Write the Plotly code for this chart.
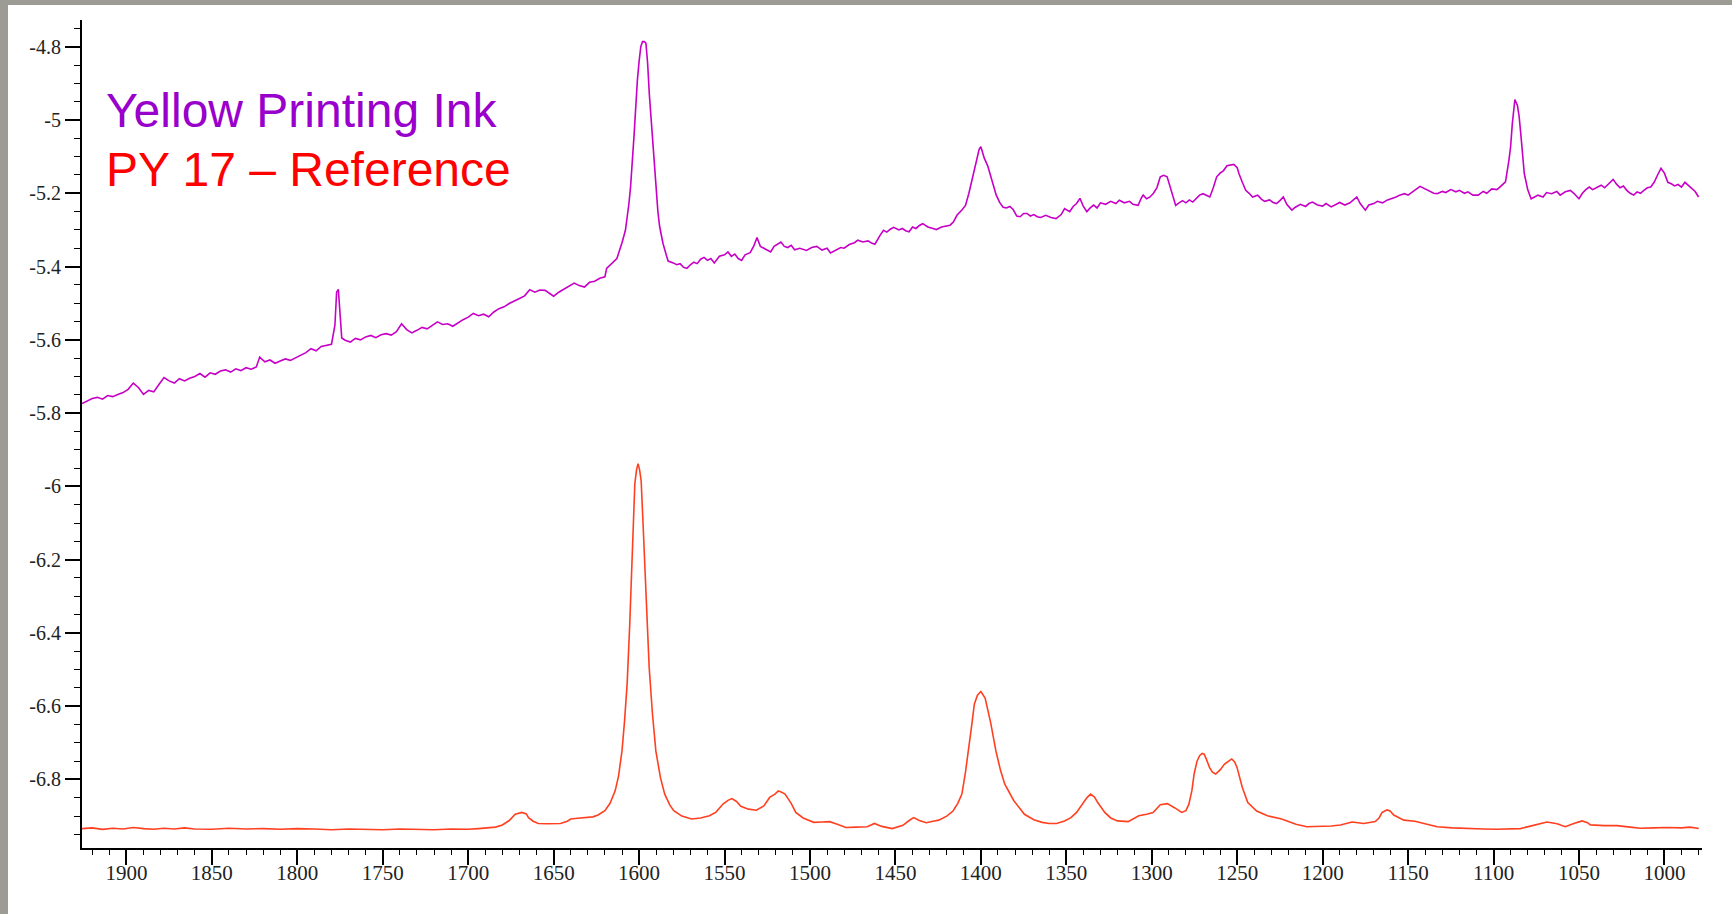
import plotly.graph_objects as go

# ---------------- data: Raman shift (cm-1), intensity ----------------
ink_points = [
    (1926, -5.774), (1923, -5.768), (1920, -5.760), (1917, -5.757), (1914, -5.762),
    (1911, -5.752), (1908, -5.755), (1905, -5.749), (1902, -5.744), (1899, -5.735),
    (1896, -5.718), (1893, -5.730), (1890, -5.749), (1887, -5.738), (1884, -5.742),
    (1881, -5.722), (1878, -5.703), (1875, -5.712), (1872, -5.718), (1869, -5.706),
    (1866, -5.712), (1863, -5.705), (1860, -5.700), (1857, -5.692), (1854, -5.702),
    (1851, -5.690), (1848, -5.694), (1845, -5.685), (1842, -5.682), (1839, -5.688),
    (1836, -5.679), (1833, -5.684), (1830, -5.676), (1827, -5.680), (1824, -5.674),
    (1822, -5.647), (1819, -5.660), (1816, -5.655), (1813, -5.664), (1810, -5.658),
    (1807, -5.652), (1804, -5.656), (1801, -5.649), (1798, -5.642), (1795, -5.635),
    (1792, -5.624), (1789, -5.630), (1786, -5.618), (1783, -5.615), (1780, -5.612),
    (1778, -5.560), (1777, -5.470), (1776, -5.462), (1775, -5.520), (1774, -5.595),
    (1772, -5.601), (1769, -5.606), (1766, -5.596), (1763, -5.600), (1760, -5.592),
    (1757, -5.588), (1754, -5.594), (1751, -5.586), (1748, -5.583), (1745, -5.587),
    (1742, -5.578), (1739, -5.556), (1736, -5.572), (1733, -5.581), (1730, -5.574),
    (1727, -5.566), (1724, -5.570), (1721, -5.560), (1718, -5.551), (1715, -5.558),
    (1712, -5.556), (1709, -5.563), (1706, -5.553), (1703, -5.545), (1700, -5.538),
    (1697, -5.528), (1694, -5.534), (1691, -5.530), (1688, -5.537), (1685, -5.524),
    (1682, -5.515), (1679, -5.510), (1676, -5.501), (1673, -5.495), (1670, -5.487),
    (1667, -5.480), (1664, -5.463), (1661, -5.470), (1658, -5.464), (1655, -5.465),
    (1652, -5.475), (1650, -5.481), (1647, -5.470), (1644, -5.462), (1641, -5.455),
    (1638, -5.445), (1635, -5.452), (1632, -5.456), (1629, -5.443), (1626, -5.440),
    (1623, -5.432), (1620, -5.428), (1619, -5.405), (1616, -5.392), (1613, -5.378),
    (1610, -5.335), (1608, -5.301), (1606, -5.230), (1605, -5.183), (1603, -5.046),
    (1602, -4.960), (1601, -4.891), (1600, -4.840), (1599, -4.800), (1598, -4.786),
    (1597, -4.786), (1596, -4.790), (1595, -4.845), (1594, -4.930), (1593, -5.000),
    (1592, -5.060), (1591, -5.130), (1590, -5.200), (1589, -5.250), (1588, -5.290),
    (1586, -5.337), (1584, -5.370), (1583, -5.385), (1580, -5.390), (1578, -5.395),
    (1576, -5.392), (1574, -5.402), (1572, -5.405), (1570, -5.395), (1568, -5.388),
    (1566, -5.392), (1564, -5.380), (1562, -5.375), (1560, -5.383), (1558, -5.378),
    (1556, -5.390), (1553, -5.372), (1550, -5.368), (1548, -5.360), (1546, -5.372),
    (1544, -5.366), (1542, -5.378), (1540, -5.383), (1538, -5.368), (1535, -5.362),
    (1533, -5.345), (1531, -5.321), (1529, -5.345), (1527, -5.350), (1525, -5.355),
    (1523, -5.360), (1521, -5.345), (1519, -5.340), (1517, -5.333), (1515, -5.345),
    (1513, -5.348), (1511, -5.342), (1509, -5.354), (1506, -5.350), (1504, -5.352),
    (1502, -5.356), (1499, -5.348), (1496, -5.345), (1493, -5.355), (1490, -5.350),
    (1488, -5.363), (1485, -5.355), (1482, -5.348), (1480, -5.350), (1477, -5.340),
    (1474, -5.335), (1472, -5.328), (1469, -5.333), (1466, -5.330), (1464, -5.336),
    (1462, -5.339), (1459, -5.315), (1457, -5.301), (1455, -5.306), (1453, -5.298),
    (1451, -5.293), (1448, -5.300), (1446, -5.296), (1444, -5.302), (1442, -5.305),
    (1440, -5.292), (1438, -5.296), (1436, -5.288), (1434, -5.283), (1431, -5.292),
    (1428, -5.296), (1426, -5.299), (1423, -5.292), (1420, -5.290), (1418, -5.287),
    (1416, -5.278), (1414, -5.260), (1411, -5.245), (1409, -5.233), (1407, -5.200),
    (1405, -5.160), (1403, -5.120), (1401, -5.080), (1400, -5.073), (1399, -5.090),
    (1398, -5.104), (1396, -5.125), (1395, -5.140), (1393, -5.170), (1391, -5.205),
    (1389, -5.225), (1387, -5.238), (1385, -5.240), (1383, -5.236), (1381, -5.245),
    (1379, -5.262), (1377, -5.264), (1375, -5.255), (1373, -5.255), (1371, -5.262),
    (1369, -5.258), (1367, -5.264), (1365, -5.266), (1362, -5.260), (1359, -5.266),
    (1356, -5.269), (1353, -5.258), (1351, -5.242), (1348, -5.250), (1346, -5.236),
    (1344, -5.228), (1342, -5.214), (1340, -5.236), (1338, -5.250), (1336, -5.240),
    (1334, -5.232), (1332, -5.240), (1330, -5.226), (1327, -5.230), (1324, -5.222),
    (1321, -5.228), (1319, -5.219), (1316, -5.226), (1313, -5.222), (1311, -5.230),
    (1308, -5.233), (1306, -5.212), (1305, -5.205), (1303, -5.215), (1301, -5.210),
    (1299, -5.200), (1297, -5.185), (1295, -5.155), (1293, -5.151), (1291, -5.155),
    (1290, -5.170), (1288, -5.205), (1286, -5.233), (1284, -5.226), (1282, -5.220),
    (1280, -5.226), (1278, -5.218), (1276, -5.224), (1274, -5.215), (1272, -5.205),
    (1270, -5.201), (1268, -5.206), (1266, -5.210), (1264, -5.185), (1262, -5.155),
    (1260, -5.145), (1258, -5.138), (1256, -5.125), (1254, -5.122), (1252, -5.121),
    (1250, -5.130), (1249, -5.146), (1247, -5.170), (1245, -5.192), (1243, -5.200),
    (1241, -5.210), (1238, -5.205), (1236, -5.215), (1234, -5.222), (1231, -5.218),
    (1229, -5.225), (1227, -5.228), (1225, -5.220), (1223, -5.210), (1221, -5.230),
    (1218, -5.246), (1216, -5.238), (1213, -5.230), (1210, -5.236), (1208, -5.228),
    (1206, -5.224), (1203, -5.232), (1200, -5.235), (1198, -5.228), (1195, -5.237),
    (1192, -5.230), (1190, -5.225), (1187, -5.232), (1184, -5.226), (1182, -5.218),
    (1180, -5.210), (1178, -5.228), (1176, -5.240), (1175, -5.246), (1173, -5.232),
    (1170, -5.228), (1168, -5.222), (1165, -5.226), (1162, -5.218), (1160, -5.215),
    (1157, -5.210), (1155, -5.205), (1152, -5.201), (1150, -5.205), (1147, -5.196),
    (1145, -5.188), (1143, -5.181), (1140, -5.188), (1138, -5.194), (1135, -5.200),
    (1133, -5.201), (1130, -5.195), (1128, -5.198), (1125, -5.190), (1122, -5.196),
    (1120, -5.192), (1117, -5.200), (1115, -5.196), (1112, -5.205), (1109, -5.205),
    (1106, -5.195), (1104, -5.200), (1101, -5.188), (1098, -5.190), (1096, -5.182),
    (1094, -5.172), (1093, -5.169), (1091, -5.110), (1090, -5.073), (1089, -5.010),
    (1088, -4.960), (1087.5, -4.944), (1086, -4.960), (1085, -4.991), (1084, -5.040),
    (1083, -5.100), (1082, -5.146), (1080, -5.190), (1078, -5.215), (1076, -5.210),
    (1074, -5.205), (1071, -5.210), (1069, -5.198), (1066, -5.201), (1063, -5.195),
    (1061, -5.205), (1058, -5.196), (1055, -5.192), (1053, -5.200), (1050, -5.215),
    (1048, -5.200), (1046, -5.190), (1044, -5.183), (1042, -5.190), (1040, -5.186),
    (1037, -5.178), (1035, -5.185), (1032, -5.170), (1030, -5.162), (1028, -5.175),
    (1026, -5.185), (1024, -5.180), (1022, -5.192), (1020, -5.200), (1018, -5.205),
    (1016, -5.196), (1014, -5.200), (1012, -5.192), (1010, -5.185), (1008, -5.183),
    (1006, -5.170), (1004, -5.150), (1002, -5.132), (1000, -5.145), (998, -5.170),
    (996, -5.174), (994, -5.180), (992, -5.176), (990, -5.183), (988, -5.170),
    (986, -5.178), (984, -5.185), (982, -5.195), (980, -5.210),
]

reference_points = [
    (1926, -6.934), (1920, -6.932), (1914, -6.936), (1908, -6.933), (1902, -6.935),
    (1896, -6.931), (1890, -6.934), (1884, -6.936), (1878, -6.933), (1872, -6.935),
    (1866, -6.932), (1860, -6.935), (1850, -6.936), (1840, -6.933), (1830, -6.935),
    (1820, -6.934), (1810, -6.936), (1800, -6.934), (1790, -6.935), (1780, -6.937),
    (1770, -6.935), (1760, -6.936), (1750, -6.937), (1740, -6.935), (1730, -6.936),
    (1720, -6.937), (1710, -6.935), (1700, -6.936), (1694, -6.934), (1688, -6.932),
    (1684, -6.930), (1680, -6.924), (1676, -6.912), (1672.5, -6.895), (1668.6, -6.890),
    (1666, -6.894), (1664.7, -6.904), (1662, -6.914), (1659, -6.920), (1654, -6.921),
    (1650, -6.920), (1646, -6.920), (1642, -6.914), (1640, -6.908), (1636, -6.906),
    (1632, -6.904), (1627, -6.902), (1624, -6.897), (1620, -6.885), (1617, -6.865),
    (1614, -6.831), (1612, -6.790), (1610, -6.722), (1608.5, -6.640), (1607, -6.539),
    (1605.5, -6.380), (1604.5, -6.248), (1603.5, -6.110), (1602.5, -5.993), (1601.5, -5.955),
    (1600.6, -5.938), (1599.7, -5.955), (1598.8, -5.984), (1597.7, -6.100), (1596.7, -6.221),
    (1595.3, -6.370), (1594.1, -6.494), (1592.2, -6.620), (1590.2, -6.722), (1587.5, -6.795),
    (1585, -6.840), (1582, -6.870), (1579.7, -6.885), (1575, -6.900), (1569.3, -6.908),
    (1564, -6.905), (1558.8, -6.899), (1555, -6.889), (1550.9, -6.867), (1548, -6.857),
    (1545.7, -6.852), (1543, -6.860), (1540.5, -6.873), (1536, -6.881), (1531.4, -6.884),
    (1527, -6.872), (1523.6, -6.849), (1520.5, -6.840), (1518.5, -6.831), (1516, -6.836),
    (1514.6, -6.840), (1511, -6.865), (1508.3, -6.890), (1504, -6.905), (1497.8, -6.917),
    (1493, -6.916), (1488.5, -6.915), (1484, -6.922), (1479, -6.931), (1473, -6.930),
    (1466.5, -6.929), (1462.3, -6.920), (1458, -6.928), (1451.9, -6.934), (1445.6, -6.925),
    (1442, -6.912), (1439.3, -6.904), (1436, -6.912), (1432, -6.918), (1428, -6.914),
    (1424.6, -6.911), (1420, -6.900), (1416.3, -6.886), (1413.5, -6.865), (1411.1, -6.840),
    (1409, -6.780), (1406.9, -6.713), (1405.3, -6.650), (1403.8, -6.594), (1402, -6.570),
    (1400, -6.560), (1397.5, -6.578), (1394.3, -6.644), (1391.2, -6.722), (1388.5, -6.775),
    (1386, -6.813), (1380.7, -6.858), (1374.5, -6.895), (1369, -6.910), (1364.1, -6.917),
    (1360, -6.920), (1355.7, -6.920), (1351, -6.913), (1347.3, -6.904), (1344, -6.890),
    (1341.1, -6.872), (1338, -6.850), (1335.8, -6.840), (1333.5, -6.848), (1331.6, -6.863),
    (1327.5, -6.890), (1324, -6.905), (1320.1, -6.913), (1313.8, -6.915), (1307.6, -6.899),
    (1303, -6.895), (1299.2, -6.890), (1295, -6.869), (1290.9, -6.866), (1286.7, -6.877),
    (1282.5, -6.890), (1280, -6.885), (1278.3, -6.868), (1276.5, -6.830), (1275.2, -6.785),
    (1273.5, -6.750), (1272, -6.735), (1270.5, -6.729), (1269.3, -6.731), (1268, -6.745),
    (1266.2, -6.767), (1264.5, -6.780), (1262.6, -6.785), (1260, -6.774), (1257.4, -6.758),
    (1255, -6.750), (1253.2, -6.744), (1251.5, -6.752), (1250.1, -6.767), (1247, -6.822),
    (1243.8, -6.863), (1238.6, -6.886), (1232.3, -6.899), (1224, -6.908), (1215.6, -6.922),
    (1209.3, -6.929), (1201.4, -6.929), (1195, -6.927), (1189.6, -6.924), (1182.8, -6.916),
    (1176, -6.920), (1169.2, -6.915), (1167, -6.905), (1165.2, -6.890), (1162.3, -6.883),
    (1160.5, -6.886), (1158.4, -6.897), (1155, -6.905), (1152.5, -6.911), (1146, -6.914),
    (1140.8, -6.920), (1136, -6.924), (1133, -6.929), (1124, -6.932), (1115.5, -6.934),
    (1106, -6.935), (1097.9, -6.936), (1090, -6.934), (1084.3, -6.934), (1079, -6.928),
    (1074.5, -6.922), (1068.7, -6.916), (1062.8, -6.921), (1058, -6.929), (1053, -6.920),
    (1048.2, -6.913), (1045, -6.918), (1043.3, -6.924), (1035, -6.926), (1027.7, -6.926),
    (1020, -6.930), (1014.1, -6.933), (1006, -6.932), (998.4, -6.931), (990, -6.932),
    (985, -6.930), (979.9, -6.934),
]

y_tickvals = [-4.8, -5.0, -5.2, -5.4, -5.6, -5.8, -6.0, -6.2, -6.4, -6.6, -6.8]
y_ticktext = ["-4.8", "-5", "-5.2", "-5.4", "-5.6", "-5.8", "-6", "-6.2", "-6.4", "-6.6", "-6.8"]

x_range = [1926, 978]
y_range = [-6.987, -4.727]

title_lines = ["Yellow Printing Ink", "PY 17 \u2013 Reference"]
title_colors = ["#9900CC", "#FF0000"]
title_y = [-4.975, -5.136]

# ---------------- figure ----------------
W, H = 1732, 914
M_L, M_R, M_T, M_B = 82, 30, 20, 66

ink_x = [p[0] for p in ink_points]
ink_y = [p[1] for p in ink_points]
ref_x = [p[0] for p in reference_points]
ref_y = [p[1] for p in reference_points]

fig = go.Figure()
fig.add_trace(go.Scatter(x=ink_x, y=ink_y, mode="lines",
                         line=dict(color="#C600C6", width=1.6), showlegend=False))
fig.add_trace(go.Scatter(x=ref_x, y=ref_y, mode="lines",
                         line=dict(color="#FF4020", width=1.6), showlegend=False))

serif = "Liberation Serif, Times New Roman, serif"

fig.update_xaxes(
    range=x_range, showgrid=False, zeroline=False,
    showline=True, linecolor="black", linewidth=2,
    ticks="outside", ticklen=15, tickwidth=1.5, tickcolor="black",
    tick0=1000, dtick=50, ticklabelstandoff=-10,
    tickfont=dict(family=serif, size=21, color="#222222"),
    minor=dict(ticks="outside", ticklen=5, tickwidth=1.2, tickcolor="black",
               tick0=1000, dtick=10, showgrid=False),
)
fig.update_yaxes(
    range=y_range, showgrid=False, zeroline=False,
    showline=True, linecolor="black", linewidth=2,
    ticks="outside", ticklen=15, tickwidth=1.5, tickcolor="black",
    tickmode="array", tickvals=y_tickvals, ticktext=y_ticktext,
    tickfont=dict(family=serif, size=20, color="#222222"),
    minor=dict(ticks="outside", ticklen=6, tickwidth=1.2, tickcolor="black",
               tickmode="linear", tick0=-5.0, dtick=0.05, showgrid=False),
)

# two-line caption in the upper-left corner
for txt, col, yv in zip(title_lines, title_colors, title_y):
    fig.add_annotation(
        x=1913, y=yv, xref="x", yref="y",
        text=txt, showarrow=False, xanchor="left", yanchor="middle",
        font=dict(family="Liberation Sans, Arial, sans-serif", size=48, color=col),
    )

# grey frame strips along the top and left edges of the page
pw = W - M_L - M_R
ph = H - M_T - M_B
frame = "#9C9C94"
fig.add_shape(type="rect", xref="paper", yref="paper", layer="above",
              x0=-M_L / pw, x1=(W - M_L) / pw, y0=1 + (M_T - 5) / ph, y1=1 + M_T / ph,
              line=dict(width=0), fillcolor=frame)
fig.add_shape(type="rect", xref="paper", yref="paper", layer="above",
              x0=-M_L / pw, x1=(8 - M_L) / pw, y0=-M_B / ph, y1=1 + M_T / ph,
              line=dict(width=0), fillcolor=frame)

fig.update_layout(
    width=W, height=H,
    margin=dict(l=M_L, r=M_R, t=M_T, b=M_B, pad=0),
    paper_bgcolor="white", plot_bgcolor="white",
    showlegend=False,
)

fig.write_html("out.html", config={"displayModeBar": False})
